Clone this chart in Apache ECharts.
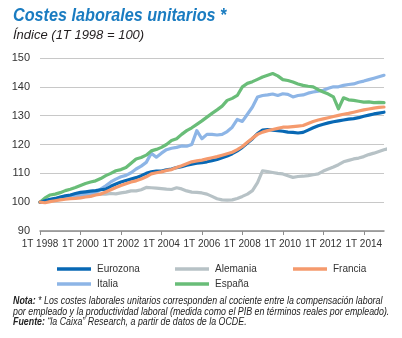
<!DOCTYPE html>
<html><head><meta charset="utf-8">
<script src="https://cdn.jsdelivr.net/npm/echarts@6/dist/echarts.min.js"></script>
<style>html,body{margin:0;padding:0;background:#fff}#c{width:402px;height:338px}</style>
</head><body><div id="c"></div>
<script>
// Quarterly index, 1T 1998 = 100, from 1T 1998 to 1T 2015
const startYear = 1998;
const nQuarters = 69;
const categories = [];
for (let i = 0; i < nQuarters; i++) {
  categories.push((i % 4 + 1) + 'T ' + (startYear + Math.floor(i / 4)));
}
const seriesNames = ['Eurozona', 'Alemania', 'Francia', 'Italia', 'España'];
const eurozona = [100,100.5,101,101.3,101.8,102.2,102.5,103,103.4,103.6,103.8,104,104.3,104.5,105.5,106.3,107,107.5,108,108.5,109.2,110,110.5,110.8,110.8,111.2,111.5,112,112.3,112.8,113.2,113.5,113.7,114,114.4,114.8,115.4,116,116.8,117.8,119,120.5,122,123.8,125,125.2,125,124.8,124.6,124.3,124.2,124,124.2,125,125.8,126.5,127,127.5,127.9,128.2,128.5,128.8,129,129.3,129.8,130.2,130.6,130.9,131.2];
const alemania = [100,100.5,100.8,101,101.3,101.6,101.8,102,102.2,102.4,102.6,102.8,102.8,102.8,103,102.9,103.2,103.5,103.9,103.9,104.3,105.1,105,104.9,104.7,104.5,104.4,105,104.6,103.9,103.5,103.4,103.2,102.8,102,101.2,100.8,100.7,100.8,101.3,102,102.8,104,106.8,110.9,110.6,110.3,110,109.8,109.2,108.6,108.9,109,109.2,109.5,109.8,110.8,111.5,112.2,113,114,114.5,115,115.3,115.8,116.5,117,117.6,118.2,118.6];
const francia = [100,99.8,100.2,100.5,100.8,101,101.2,101.3,101.5,101.8,102,102.5,102.8,103.5,104.3,105.1,105.8,106.4,107,107.4,108,108.8,109.8,110.2,110.5,111,111.3,112,112.6,113.3,114,114.3,114.6,115,115.4,115.8,116.3,116.8,117.3,118.2,119.3,120.8,122.2,123.5,124.3,124.8,125.2,125.6,126,126,126.2,126.4,126.6,127.3,128,128.5,128.9,129.3,129.7,130.1,130.5,130.8,131.2,131.6,132,132.3,132.6,132.9,133];
const italia = [100,100.3,100.8,101.2,101.6,102,102.3,102.2,102.5,102.8,103,103.3,104.5,105.7,107,108,108.8,109.3,110.2,111.5,112.5,113.8,117,115.6,117,118.2,118.7,119,119.5,119.4,120,124.8,122,123.5,123.5,123.3,123.5,124.5,126,128.7,128,130.5,133,136.5,137,137.2,137.5,137,137.6,137.4,136.5,137,137.2,137.8,138.2,138.5,138.8,139.5,140,140,140.5,140.8,141,141.6,142,142.5,143,143.5,144];
const espana = [100,101.5,102.5,102.8,103.3,104,104.5,105.1,105.8,106.5,107,107.4,108.2,109.2,110,110.9,111.3,112,113.5,115,115.5,116.3,117.8,118.3,119,120,121.4,122,123.5,124.8,125.8,127,128.2,129.5,130.8,132,133.3,135.3,136,137,140,141.2,141.8,142.6,143.4,144,144.6,143.8,142.5,142.2,141.7,141,140.5,140.2,140,139,138.2,137.5,136.5,132.4,136.2,135.5,135.3,135,134.7,134.8,134.5,134.6,134.5];
const yTicks = [90, 100, 110, 120, 130, 140, 150];
const colors = ['#0868b4', '#b7c2c6', '#f59a6d', '#8db5e6', '#69bd78'];
const dataList = [eurozona, alemania, francia, italia, espana];

const FONT = "'Liberation Sans', Arial, sans-serif";
const chart = echarts.init(document.getElementById('c'), null, {renderer: 'canvas'});
const series = seriesNames.map((n, k) => ({
  name: n, type: 'line', data: dataList[k], showSymbol: false, symbol: 'none',
  lineStyle: {width: 3.2, color: colors[k], cap: 'round', join: 'round'},
  itemStyle: {color: colors[k]},
  z: [3, 2, 3, 2, 2][k]
}));
const legendBase = {
  orient: 'vertical', icon: 'rect', itemWidth: 34, itemHeight: 3.5, itemGap: 5,
  textStyle: {fontFamily: FONT, fontSize: 10, color: '#333', padding: [0, 0, 0, 1]}, top: 259
};
chart.setOption({
  animation: false,
  color: colors,
  grid: {left: 40, right: 18, top: 58, bottom: 107, containLabel: false},
  xAxis: {
    type: 'category', data: categories, boundaryGap: false,
    axisLine: {lineStyle: {color: '#8c8c8c', width: 1.5}},
    axisTick: {interval: 7, length: 4, lineStyle: {color: '#8c8c8c'}},
    axisLabel: {interval: 7, hideOverlap: false, showMinLabel: true, fontFamily: FONT, fontSize: 10, color: '#333', margin: 8}
  },
  yAxis: {
    type: 'value', min: yTicks[0], max: yTicks[yTicks.length - 1], interval: 10,
    axisLine: {show: false}, axisTick: {show: false},
    splitLine: {lineStyle: {color: '#c8c8c8', width: 1}},
    axisLabel: {fontFamily: FONT, fontSize: 11, color: '#333', margin: 10}
  },
  legend: [
    Object.assign({}, legendBase, {left: 52, data: ['Eurozona', 'Italia']}),
    Object.assign({}, legendBase, {left: 170, data: ['Alemania', 'España']}),
    Object.assign({}, legendBase, {left: 288, data: ['Francia']})
  ],
  series: series,
  graphic: [
    {type: 'text', x: 13, y: 7, scaleX: 0.9, style: {text: 'Costes laborales unitarios *', font: "italic bold 18px " + FONT, fill: '#1a7cc1'}},
    {type: 'text', x: 13, y: 29, style: {text: 'Índice (1T 1998 = 100)', font: "italic 13px " + FONT, fill: '#231f20'}},
    {type: 'text', x: 13, y: 296, scaleX: 0.885, style: {
      rich: {
        b: {fontFamily: FONT, fontStyle: 'italic', fontWeight: 'bold', fontSize: 10, fill: '#222', lineHeight: 10.5},
        n: {fontFamily: FONT, fontStyle: 'italic', fontSize: 10, fill: '#222', lineHeight: 10.5}
      },
      text: '{b|Nota:}{n| * Los costes laborales unitarios corresponden al cociente entre la compensación laboral}\n{n|por empleado y la productividad laboral (medida como el PIB en términos reales por empleado).}\n{b|Fuente:}{n| “la Caixa” Research, a partir de datos de la OCDE.}'
    }}
  ]
});
</script></body></html>
